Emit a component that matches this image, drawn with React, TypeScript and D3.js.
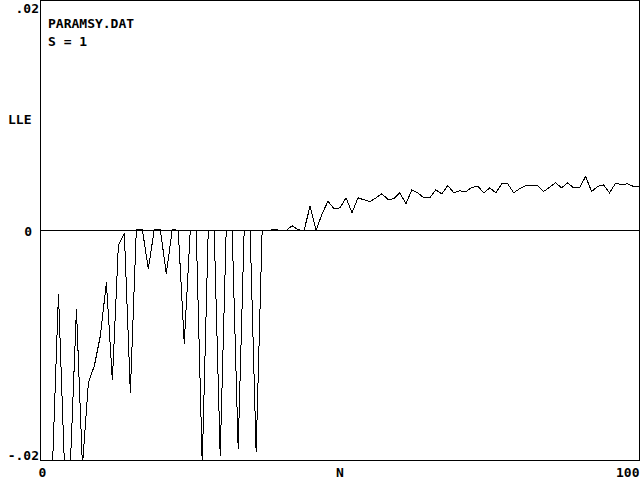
import React, { useEffect, useRef } from "react";
import * as d3 from "d3";

// LLE values, one per N (0..100); values below -.02 are clipped
const nValues = d3.range(0, 101);
const lleValues = [
  -0.03, -0.03, -0.0205, -0.00548, -0.0205, -0.0202, -0.00687, -0.0205, -0.01322, -0.01174,
  -0.00913, -0.00452, -0.01304, -0.0013, -0.00026, -0.01409, 0.0001, 0.0001, -0.00333, 0.0001,
  0.0001, -0.00377, 0.0001, 0.0, -0.00983, 0.0, 0.0, -0.0203, 0.0, 0.0,
  -0.01957, 0.0, 0.0, -0.01896, 0.0, 0.0, -0.0193, 0.0, 0.0, 0.0001,
  0.0, 0.0, 0.00041, 0.00006, 0.0, 0.00211, 0.0, 0.00145, 0.00255, 0.00189,
  0.00197, 0.00284, 0.00154, 0.00284, 0.00267, 0.00252, 0.00284, 0.00319, 0.0027, 0.00276,
  0.00328, 0.00232, 0.00354, 0.00326, 0.00284, 0.00284, 0.00354, 0.00319, 0.00391, 0.00328,
  0.00345, 0.00337, 0.00374, 0.00385, 0.00328, 0.00371, 0.00328, 0.00406, 0.00406, 0.00328,
  0.00363, 0.00391, 0.00391, 0.00391, 0.00339, 0.00377, 0.00415, 0.00371, 0.00415, 0.00371,
  0.00371, 0.0047, 0.00339, 0.00383, 0.00397, 0.00328, 0.00411, 0.004, 0.00406, 0.00383,
  0.00383,
];

const yTicks = [0.02, 0, -0.02];
const yTickLabels = [".02", "0", "-.02"];
const xTicks = [0, 100];
const xTickLabels = ["0", "100"];
const titleLines = ["PARAMSY.DAT", "S = 1"];

export default function App() {
  const ref = useRef<SVGSVGElement>(null);

  useEffect(() => {
    const svg = d3.select(ref.current);
    svg.selectAll("*").remove();

    const x = d3.scaleLinear().domain([0, 100]).range([40.5, 639.5]);
    const y = d3.scaleLinear().domain([-0.02, 0.02]).range([460.5, 0.5]);
    const font = "'DejaVu Sans Mono', monospace";

    svg.append("clipPath").attr("id", "plot")
      .append("rect")
      .attr("x", x(0)).attr("y", y(0.02))
      .attr("width", x(100) - x(0)).attr("height", y(-0.02) - y(0.02));

    // frame and zero line
    svg.append("rect")
      .attr("x", x(0)).attr("y", y(0.02))
      .attr("width", x(100) - x(0)).attr("height", y(-0.02) - y(0.02))
      .attr("fill", "none").attr("stroke", "#000");
    svg.append("line")
      .attr("x1", x(0)).attr("x2", x(100))
      .attr("y1", y(0)).attr("y2", y(0))
      .attr("stroke", "#000");

    const line = d3.line<number>()
      .x((d, i) => x(nValues[i]))
      .y(d => y(d));

    svg.append("path")
      .attr("d", line(lleValues))
      .attr("fill", "none")
      .attr("stroke", "#000")
      .attr("stroke-width", 1)
      .attr("clip-path", "url(#plot)");

    const txt = (s: string, tx: number, ty: number, anchor: string) =>
      svg.append("text")
        .attr("x", tx).attr("y", ty)
        .attr("text-anchor", anchor)
        .attr("font-family", font)
        .attr("font-weight", "bold")
        .attr("font-size", 13)
        .attr("fill", "#000")
        .text(s);

    // y tick labels
    txt(yTickLabels[0], 39, y(yTicks[0]) + 12, "end");
    txt(yTickLabels[1], 32, y(yTicks[1]) + 5, "end");
    txt(yTickLabels[2], 39, y(yTicks[2]) - 1, "end");
    txt("LLE", 8, 124, "start");

    // x tick labels
    txt(xTickLabels[0], x(xTicks[0]) + 2, 477, "middle");
    txt(xTickLabels[1], x(xTicks[1]), 477, "end");
    txt("N", (x(0) + x(100)) / 2, 477, "middle");

    titleLines.forEach((t, i) => txt(t, 48, 28 + i * 18, "start"));
  }, []);

  return (
    <svg
      ref={ref}
      width={640}
      height={480}
      shapeRendering="crispEdges"
      style={{ position: "absolute", left: 0, top: 0, background: "#fff" }}
    />
  );
}
